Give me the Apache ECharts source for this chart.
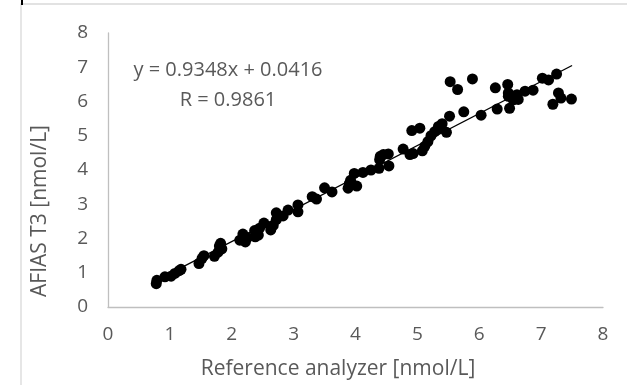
<!DOCTYPE html>
<html>
<head>
<meta charset="utf-8">
<script src="https://cdn.jsdelivr.net/npm/echarts@6/dist/echarts.min.js"></script>
<style>
  html, body { margin: 0; padding: 0; background: #fff; }
  #chart { width: 627px; height: 385px; }
</style>
</head>
<body>
<div id="chart"></div>
<script>
// reference analyzer vs AFIAS T3, nmol/L
const refValues = [0.78, 0.79, 0.92, 1.02, 1.08, 1.15, 1.18, 1.47, 1.52, 1.55, 1.72, 1.78, 1.82, 1.84, 1.80,
  2.13, 2.18, 2.22, 2.25, 2.37, 2.38, 2.43, 2.45, 2.52, 2.63, 2.67, 2.72, 2.72, 2.83, 2.91,
  3.07, 3.07, 3.30, 3.37, 3.50, 3.62, 3.88, 3.90, 3.92, 3.98,
  4.02, 4.12, 4.25, 4.38, 4.39, 4.40, 4.45, 4.53, 4.54, 4.77,
  4.88, 4.91, 4.93, 5.04, 5.08, 5.12, 5.17, 5.22, 5.28, 5.34,
  5.36, 5.40, 5.47, 5.52, 5.53, 5.65, 5.75, 5.89, 6.03, 6.26,
  6.29, 6.46, 6.47, 6.47, 6.49, 6.55, 6.61, 6.63, 6.74, 6.87,
  7.02, 7.12, 7.25, 7.19, 7.28, 7.32, 7.49];
const afiasValues = [0.68, 0.78, 0.88, 0.90, 0.98, 1.06, 1.10, 1.27, 1.42, 1.50, 1.48, 1.60, 1.86, 1.70, 1.78,
  1.95, 2.13, 1.90, 2.02, 2.23, 2.05, 2.10, 2.30, 2.45, 2.25, 2.38, 2.75, 2.55, 2.66, 2.83,
  2.98, 2.78, 3.22, 3.15, 3.48, 3.36, 3.47, 3.60, 3.70, 3.90,
  3.53, 3.93, 4.00, 4.05, 4.30, 4.40, 4.45, 4.47, 4.12, 4.61,
  4.45, 5.15, 4.48, 5.22, 4.56, 4.69, 4.83, 5.00, 5.12, 5.27,
  5.22, 5.35, 5.10, 5.57, 6.58, 6.35, 5.70, 6.66, 5.60, 6.40,
  5.78, 6.50, 6.25, 6.15, 5.80, 6.05, 6.20, 6.06, 6.30, 6.33,
  6.68, 6.63, 6.80, 5.92, 6.25, 6.10, 6.07];

// trendline end points
const trendX = [0.78, 7.50];
const trendY = [0.77, 7.05];

const equationText = 'y = 0.9348x + 0.0416';
const rText = 'R = 0.9861';
const xTitle = 'Reference analyzer [nmol/L]';
const yTitle = 'AFIAS T3 [nmol/L]';

const font = '"Open Sans", sans-serif';
const textColor = '#595959';

const chart = echarts.init(document.getElementById('chart'));

const option = {
  animation: false,
  backgroundColor: '#fff',
  grid: { left: 108, right: 24, top: 33, bottom: 78 },
  xAxis: {
    type: 'value',
    min: 0,
    max: 8,
    interval: 1,
    axisLine: { show: true, onZero: false, lineStyle: { color: '#BFBFBF', width: 1.3 } },
    axisTick: { show: false },
    splitLine: { show: false },
    axisLabel: { color: textColor, fontFamily: font, fontSize: 19, margin: 18 }
  },
  yAxis: {
    type: 'value',
    min: 0,
    max: 8,
    interval: 1,
    axisLine: { show: true, onZero: false, lineStyle: { color: '#BFBFBF', width: 1.3 } },
    axisTick: { show: false },
    splitLine: { show: false },
    axisLabel: { color: textColor, fontFamily: font, fontSize: 19, margin: 20 }
  },
  series: [
    {
      type: 'scatter',
      data: refValues.map((x, i) => [x, afiasValues[i]]),
      symbol: 'circle',
      symbolSize: 11,
      itemStyle: { color: '#000', opacity: 1 },
      z: 2
    },
    {
      type: 'line',
      data: trendX.map((x, i) => [x, trendY[i]]),
      showSymbol: false,
      lineStyle: { color: '#000', width: 1.3 },
      z: 3
    }
  ],
  graphic: [
    {
      type: 'rect',
      shape: { x: 21, y: 4, width: 700, height: 500 },
      style: { fill: 'none', stroke: '#D9D9D9', lineWidth: 1.3 },
      silent: true
    },
    {
      type: 'line',
      shape: { x1: 22, y1: 0, x2: 22, y2: 5 },
      style: { stroke: '#000', lineWidth: 2 },
      silent: true
    },
    {
      type: 'text',
      x: 228, y: 70,
      style: { text: equationText, fill: textColor, font: '20px ' + font, align: 'center', verticalAlign: 'middle' }
    },
    {
      type: 'text',
      x: 228, y: 100,
      style: { text: rText, fill: textColor, font: '20px ' + font, align: 'center', verticalAlign: 'middle' }
    },
    {
      type: 'text',
      x: 338, y: 369,
      style: { text: xTitle, fill: textColor, font: '21px ' + font, align: 'center', verticalAlign: 'middle' }
    },
    {
      type: 'text',
      x: 40, y: 211,
      rotation: Math.PI / 2,
      style: { text: yTitle, fill: textColor, font: '21px ' + font, align: 'center', verticalAlign: 'middle' }
    }
  ]
};

chart.setOption(option);
</script>
</body>
</html>
